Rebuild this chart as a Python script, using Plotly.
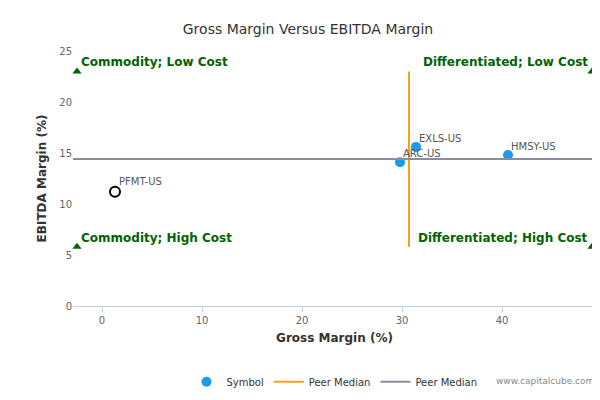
import plotly.graph_objects as go

symbols = ["ARC-US", "EXLS-US", "HMSY-US"]
gross_margin = [29.8, 31.4, 40.6]
ebitda_margin = [14.1, 15.6, 14.8]

subject = "PFMT-US"
subject_gm = 1.3
subject_em = 11.2

peer_median_gm = 30.7
peer_median_em = 14.4
x_span = [-3, 49.4]
y_span = [5.8, 23.0]

corner_x = [-2.5, 49.0, -2.5, 49.0]
corner_y = [23.0, 23.0, 5.8, 5.8]
corner_labels = ["Commodity; Low Cost", "Differentiated; Low Cost",
                 "Commodity; High Cost", "Differentiated; High Cost"]

green = "#006400"
fig = go.Figure()

fig.add_trace(go.Scatter(x=gross_margin, y=ebitda_margin, mode="markers",
                         marker=dict(size=10, color="#1a9be6"), name="Symbol"))
for sx, sy, s in zip(gross_margin, ebitda_margin, symbols):
    fig.add_annotation(x=sx, y=sy, text=s, showarrow=False, xanchor="left",
                       yanchor="bottom", xshift=1, yshift=1,
                       font=dict(size=10, color="#555"))
fig.add_trace(go.Scatter(x=[peer_median_gm, peer_median_gm], y=y_span, mode="lines",
                         line=dict(color="#f7a11a", width=2), name="Peer Median"))
fig.add_trace(go.Scatter(x=x_span, y=[peer_median_em, peer_median_em], mode="lines",
                         line=dict(color="#8c8c9c", width=2), name="Peer Median"))
fig.add_trace(go.Scatter(x=[subject_gm], y=[subject_em], mode="markers",
                         marker=dict(size=10, color="white", line=dict(color="black", width=2)),
                         showlegend=False))
fig.add_annotation(x=subject_gm, y=subject_em, text=subject, showarrow=False, xanchor="left",
                   yanchor="bottom", xshift=2, yshift=3, font=dict(size=10, color="#555"))
fig.add_trace(go.Scatter(x=corner_x, y=corner_y, mode="markers", cliponaxis=False,
                         marker=dict(symbol="triangle-up", size=8, color=green),
                         showlegend=False, hoverinfo="skip"))

for i, (cx, cy, lab) in enumerate(zip(corner_x, corner_y, corner_labels)):
    left = i % 2 == 0
    fig.add_annotation(x=cx, y=cy, text="<b>%s</b>" % lab, showarrow=False,
                       xanchor="left" if left else "right", yanchor="bottom",
                       xshift=2 if left else -2, yshift=0,
                       font=dict(size=12, color=green))

fig.add_annotation(xref="paper", yref="paper", x=1.0, y=-0.32, text="www.capitalcube.com",
                   showarrow=False, xanchor="right", font=dict(size=9, color="#888"))

fig.update_layout(
    title=dict(text="Gross Margin Versus EBITDA Margin", x=0.5, y=0.96,
               font=dict(size=14, color="#333")),
    width=600, height=400, autosize=False, margin=dict(l=65, r=12, t=43, b=93),
    paper_bgcolor="white", plot_bgcolor="white",
    font=dict(family="DejaVu Sans", color="#444"),
    xaxis=dict(range=[-2.9, 49.4], dtick=10, showgrid=False, zeroline=False, automargin=False,
               showline=True, linecolor="#c0d0e0", ticks="outside", ticklen=5,
               tickcolor="#c0d0e0", tickfont=dict(size=10, color="#666"),
               title=dict(text="<b>Gross Margin (%)</b>", standoff=8,
                          font=dict(size=12, color="#333"))),
    yaxis=dict(range=[0, 25], dtick=5, showgrid=False, zeroline=False, automargin=False,
               tickfont=dict(size=10, color="#666"),
               title=dict(text="<b>EBITDA Margin (%)</b>", standoff=10,
                          font=dict(size=12, color="#333"))),
    legend=dict(orientation="h", x=0.5, xanchor="center", y=-0.24,
                font=dict(size=10, color="#333")),
    showlegend=True,
)

fig.write_html("out.html")
